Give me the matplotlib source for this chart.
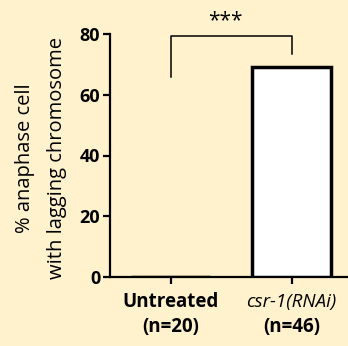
import matplotlib
matplotlib.use("Agg")
import matplotlib.pyplot as plt
from matplotlib.transforms import blended_transform_factory

groups = ["Untreated", "csr-1(RNAi)"]
counts = ["(n=20)", "(n=46)"]
values = [0, 69]
yticks = [0, 20, 40, 60, 80]
bracket_y = [65.7, 79.3, 73.4]   # left foot, top, right foot
sig_label = "***"

bg = "#FFF2CC"
plt.rcParams['font.family'] = ['Open Sans', 'DejaVu Sans']

fig = plt.figure(figsize=(3.48, 3.46), dpi=100, facecolor=bg)
ax = fig.add_axes([110/348, 69/346, 238/348, 243/346])
ax.set_facecolor(bg)

x = list(range(len(groups)))
ax.bar(x, values, width=0.65, color="white", edgecolor="black", linewidth=2.5, zorder=3)

ax.set_xlim(-0.5, 1.465)
ax.set_ylim(0, 80)
ax.set_yticks(yticks)
ax.set_yticklabels([str(v) for v in yticks], fontsize=13, fontweight="bold")
ax.set_xticks(x)
ax.set_xticklabels(["", ""])
for s in ["top", "right"]:
    ax.spines[s].set_visible(False)
for s in ["left", "bottom"]:
    ax.spines[s].set_linewidth(1.6)
ax.tick_params(axis="both", width=1.6, length=5, pad=2)

ax.set_ylabel("% anaphase cell\nwith lagging chromosome", fontsize=14.5, linespacing=1.85,
              ha="center", va="center")
ax.yaxis.set_label_coords(-0.29, 0.49)

tr = blended_transform_factory(ax.transData, ax.transAxes)
ax.text(x[0], -0.104, groups[0], transform=tr, ha="center", va="center", fontsize=13.5, fontweight="bold")
ax.text(x[1], -0.104, groups[1], transform=tr, ha="center", va="center", fontsize=13.5, style="italic")
for xi, c in zip(x, counts):
    ax.text(xi, -0.206, c, transform=tr, ha="center", va="center", fontsize=13.5, fontweight="bold")

# significance bracket
ax.plot([x[0], x[0], x[1], x[1]], [bracket_y[0], bracket_y[1], bracket_y[1], bracket_y[2]],
        color="black", linewidth=1.1, clip_on=False)
ax.text(0.45, 84.5, sig_label, ha="center", va="center", fontsize=15, clip_on=False)

fig.savefig("out.png", dpi=100, facecolor=bg)
